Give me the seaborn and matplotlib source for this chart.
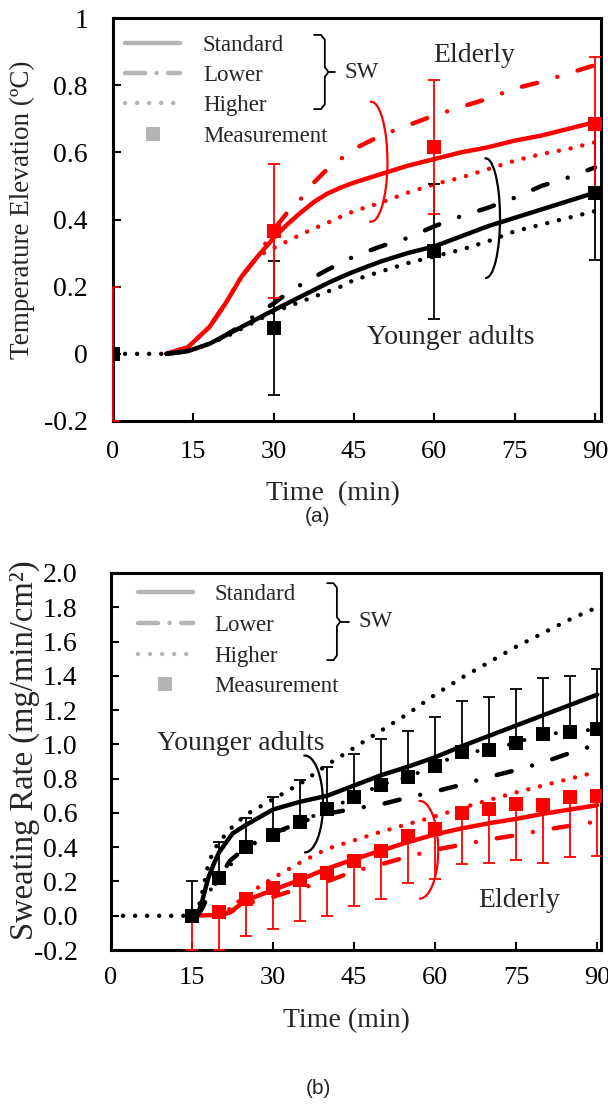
import numpy as np
import pandas as pd
import seaborn as sns
import matplotlib
matplotlib.use('Agg')
import matplotlib.pyplot as plt
from matplotlib.patches import Arc
from matplotlib.lines import Line2D

# ---------------- (a) temperature elevation ----------------
ta = [10, 14, 18, 21, 24, 27, 30, 32.5, 35, 37.5, 40, 42.5, 45, 50, 55, 60, 65, 70, 75, 80, 85, 90]
red_std_a = [0, 0.02, 0.08, 0.15, 0.23, 0.29, 0.345, 0.385, 0.42, 0.452, 0.477, 0.495, 0.51, 0.535, 0.56, 0.58, 0.60, 0.615, 0.635, 0.65, 0.67, 0.69]
red_low_a = [0, 0.02, 0.08, 0.15, 0.23, 0.29, 0.37, 0.42, 0.46, 0.51, 0.55, 0.58, 0.61, 0.65, 0.68, 0.71, 0.735, 0.76, 0.79, 0.81, 0.835, 0.86]
red_hi_a = [0, 0.02, 0.08, 0.15, 0.23, 0.29, 0.315, 0.335, 0.355, 0.373, 0.39, 0.408, 0.425, 0.45, 0.48, 0.505, 0.525, 0.55, 0.575, 0.595, 0.61, 0.63]
blk_std_a = [0, 0.008, 0.03, 0.055, 0.08, 0.105, 0.13, 0.15, 0.17, 0.19, 0.21, 0.228, 0.245, 0.275, 0.30, 0.32, 0.35, 0.38, 0.405, 0.43, 0.455, 0.48]
blk_low_a = [0, 0.008, 0.03, 0.055, 0.085, 0.12, 0.15, 0.18, 0.205, 0.228, 0.25, 0.27, 0.29, 0.32, 0.345, 0.38, 0.41, 0.435, 0.465, 0.50, 0.525, 0.555]
ta_hi = [0, 5] + ta
blk_hi_a = [0, 0, 0, 0.008, 0.03, 0.05, 0.075, 0.10, 0.125, 0.14, 0.155, 0.17, 0.185, 0.2, 0.22, 0.245, 0.27, 0.29, 0.31, 0.335, 0.365, 0.385, 0.405, 0.425]

tm_a = [0, 30, 60, 90]
red_meas_a = [0, 0.365, 0.615, 0.685]
red_err_a = [0.2, 0.2, 0.2, 0.2]
blk_meas_a = [0, 0.077, 0.305, 0.48]
blk_err_a = [0, 0.2, 0.2, 0.2]

# ---------------- (b) sweating rate ----------------
tb_red = [15, 20, 22, 25, 30, 35, 40, 45, 50, 55, 60, 65, 70, 75, 80, 85, 90]
red_std_b = [0, 0.005, 0.02, 0.09, 0.15, 0.21, 0.275, 0.33, 0.38, 0.43, 0.475, 0.51, 0.54, 0.565, 0.595, 0.62, 0.645]
tb_red2 = [20, 22, 25, 30, 35, 40, 45, 50, 55, 60, 65, 70, 75, 80, 85, 90]
red_hi_b = [0, 0.04, 0.12, 0.22, 0.31, 0.39, 0.44, 0.49, 0.535, 0.58, 0.63, 0.675, 0.72, 0.76, 0.80, 0.84]
red_low_b = [0, 0.02, 0.07, 0.11, 0.16, 0.20, 0.26, 0.30, 0.345, 0.385, 0.415, 0.445, 0.47, 0.50, 0.525, 0.55]

tb_std = [16, 17, 18, 19, 20, 22.5, 25, 30, 35, 40, 45, 50, 55, 60, 65, 70, 75, 80, 85, 90]
blk_std_b = [0, 0.1, 0.22, 0.3, 0.37, 0.48, 0.53, 0.62, 0.665, 0.70, 0.76, 0.82, 0.87, 0.925, 0.99, 1.05, 1.11, 1.17, 1.23, 1.29]
tb_hi = [0, 15, 16, 17, 18, 19, 20, 22.5, 25, 30, 35, 40, 45, 50, 55, 60, 65, 70, 75, 80, 85, 90]
blk_hi_b = [0, 0, 0.02, 0.15, 0.3, 0.38, 0.43, 0.52, 0.59, 0.68, 0.77, 0.88, 0.98, 1.08, 1.18, 1.29, 1.39, 1.48, 1.57, 1.65, 1.73, 1.80]
tb_low = [16, 17, 18, 20, 22, 25, 30, 35, 40, 45, 50, 55, 60, 65, 70, 75, 80, 85, 90]
blk_low_b = [0, 0.05, 0.12, 0.22, 0.32, 0.40, 0.48, 0.545, 0.595, 0.625, 0.65, 0.69, 0.725, 0.765, 0.81, 0.85, 0.895, 0.95, 1.0]

tm_b = [15, 20, 25, 30, 35, 40, 45, 50, 55, 60, 65, 70, 75, 80, 85, 90]
blk_meas_b = [0.0, 0.22, 0.40, 0.47, 0.545, 0.62, 0.69, 0.765, 0.81, 0.875, 0.955, 0.965, 1.01, 1.06, 1.07, 1.09]
blk_top_b = [0.2, 0.43, 0.57, 0.69, 0.79, 0.865, 0.945, 1.03, 1.08, 1.16, 1.255, 1.275, 1.325, 1.385, 1.40, 1.44]
red_meas_b = [0.0, 0.02, 0.10, 0.16, 0.21, 0.25, 0.32, 0.38, 0.465, 0.505, 0.60, 0.62, 0.65, 0.645, 0.69, 0.70]
red_bot_b = [-0.2, -0.2, -0.12, -0.077, -0.03, 0.0, 0.055, 0.10, 0.19, 0.215, 0.30, 0.305, 0.325, 0.31, 0.345, 0.347]

RED = '#ff0000'
BLK = '#000000'
GRAY = '#b4b4b4'
LW = 3.2
SOLID = '-'
DASHDOT = (0, (3.5, 4.75, 0.01, 4.75))
DOTTED = (0, (0.01, 2.7))

sns.set_theme(style='ticks')
plt.rcParams['font.family'] = ['Liberation Serif', 'DejaVu Serif']

fig = plt.figure(figsize=(6.08, 11.05), dpi=100)
ax1 = fig.add_axes([113 / 608, 1 - 421 / 1105, 488 / 608, 403 / 1105])
ax2 = fig.add_axes([111 / 608, 1 - 950 / 1105, 490 / 608, 377 / 1105])


def curve(ax, t, y, color, ls, lw=LW):
    sns.lineplot(x=t, y=y, ax=ax, color=color, linestyle=ls, linewidth=lw,
                 dash_capstyle='round', solid_capstyle='round',
                 sort=False, estimator=None, legend=False)


def squares(ax, t, y, color):
    sns.scatterplot(x=t, y=y, ax=ax, marker='s', s=100, color=color,
                    linewidth=0, legend=False, zorder=6)


def errbars(ax, t, y, yerr, color):
    eb = ax.errorbar(t, y, yerr=yerr, fmt='none', ecolor=color,
                     elinewidth=1.3, capsize=4.5, capthick=1.3, zorder=4)
    for col in eb[2]:
        col.set_clip_on(False)


def bracket(ax, x_arm, x_vert, x_tip, y_top, y_bot, text):
    ym = (y_top + y_bot) / 2
    r = 0.012
    rx = (x_vert - x_arm) * 0.35
    xs = [x_arm, x_vert - rx, x_vert, x_vert, x_vert + rx, x_vert, x_vert, x_vert - rx, x_arm]
    ys = [y_top, y_top, y_top - r, ym + r, ym, ym - r, y_bot + r, y_bot, y_bot]
    ax.plot(xs, ys, color='black', lw=1.3, transform=ax.transAxes, clip_on=False)
    ax.plot([x_vert + rx, x_tip], [ym, ym], color='black', lw=1.3,
            transform=ax.transAxes, clip_on=False)
    ax.text(x_tip + 0.02, ym, text, transform=ax.transAxes, ha='left',
            va='center', fontsize=16.5)


def legend(ax, anchor, textpad, spacing):
    handles = [Line2D([], [], color=GRAY, lw=LW, ls=SOLID),
               Line2D([], [], color=GRAY, lw=LW, ls=(0, (4.5, 2.6, 0.01, 2.6)),
                      dash_capstyle='round'),
               Line2D([], [], color=GRAY, lw=LW, ls=DOTTED, dash_capstyle='round'),
               Line2D([], [], color=GRAY, ls='none', marker='s', markersize=10,
                      markeredgewidth=0)]
    ax.legend(handles, ['Standard', 'Lower', 'Higher', 'Measurement'],
              loc='upper left', bbox_to_anchor=anchor, frameon=False,
              fontsize=16.5, handlelength=2.4, handletextpad=textpad,
              labelspacing=spacing, borderpad=0, borderaxespad=0)


def style_axes(ax, xpad, ypad):
    for s in ax.spines.values():
        s.set_linewidth(2.2)
        s.set_color('black')
    ax.tick_params(direction='in', length=6, width=1.5, colors='black')
    ax.tick_params(axis='x', labelsize=19, pad=xpad)
    ax.tick_params(axis='y', labelsize=20, pad=ypad)


# ----- panel (a) -----
errbars(ax1, tm_a, blk_meas_a, blk_err_a, BLK)
errbars(ax1, tm_a, red_meas_a, red_err_a, RED)
curve(ax1, ta, red_low_a, RED, DASHDOT)
curve(ax1, ta, red_hi_a, RED, DOTTED)
curve(ax1, ta, red_std_a, RED, SOLID)
curve(ax1, ta, blk_low_a, BLK, DASHDOT)
curve(ax1, ta_hi, blk_hi_a, BLK, DOTTED)
curve(ax1, ta, blk_std_a, BLK, SOLID)
squares(ax1, tm_a, red_meas_a, RED)
squares(ax1, tm_a, blk_meas_a, BLK)

ax1.add_patch(Arc((48.2, 0.572), 6.06, 0.357, theta1=-153, theta2=145,
                  color=RED, lw=1.6))
ax1.add_patch(Arc((69.6, 0.404), 5.3, 0.356, theta1=-124, theta2=144,
                  color=BLK, lw=1.6))
ax1.text(67.5, 0.889, 'Elderly', ha='center', va='center', fontsize=20)
ax1.text(63, 0.05, 'Younger adults', ha='center', va='center', fontsize=20)

ax1.set_xlim(0, 91.1)
ax1.set_ylim(-0.2, 1.0)
ax1.set_xticks([0, 15, 30, 45, 60, 75, 90])
ax1.set_yticks([-0.2, 0, 0.2, 0.4, 0.6, 0.8, 1.0])
ax1.set_yticklabels(['-0.2', '0', '0.2', '0.4', '0.6', '0.8', '1'])
style_axes(ax1, 14.5, 18)
ax1.set_xlabel('Time  (min)', fontsize=20)
ax1.set_ylabel('Temperature Elevation (ºC)', fontsize=19.5)
ax1.xaxis.set_label_coords(0.45, -0.15)
ax1.yaxis.set_label_coords(-0.16, 0.524)
legend(ax1, (0.0246, 0.958), 1.0, 0.40)
bracket(ax1, 0.412, 0.434, 0.455, 0.958, 0.774, 'SW')

# ----- panel (b) -----
blk_up = np.array(blk_top_b) - np.array(blk_meas_b)
red_dn = np.array(red_meas_b) - np.array(red_bot_b)
errbars(ax2, tm_b, blk_meas_b, [np.zeros(len(tm_b)), blk_up], BLK)
errbars(ax2, tm_b, red_meas_b, [red_dn, np.zeros(len(tm_b))], RED)
curve(ax2, tm_b, blk_meas_b, BLK, (0, (0.01, 4.0)), lw=2.9)
curve(ax2, tb_red2, red_low_b, RED, DASHDOT)
curve(ax2, tb_red2, red_hi_b, RED, DOTTED)
curve(ax2, tb_red, red_std_b, RED, SOLID)
curve(ax2, tb_low, blk_low_b, BLK, DASHDOT)
curve(ax2, tb_hi, blk_hi_b, BLK, DOTTED)
curve(ax2, tb_std, blk_std_b, BLK, SOLID)
squares(ax2, tm_b, red_meas_b, RED)
squares(ax2, tm_b, blk_meas_b, BLK)

ax2.add_patch(Arc((35.9, 0.652), 6.7, 0.565, theta1=-117, theta2=135,
                  color=BLK, lw=1.6))
ax2.add_patch(Arc((57.15, 0.385), 6.85, 0.57, theta1=-116, theta2=128,
                  color=RED, lw=1.6))
ax2.text(24.1, 1.005, 'Younger adults', ha='center', va='center', fontsize=20)
ax2.text(75.5, 0.088, 'Elderly', ha='center', va='center', fontsize=20)

ax2.set_xlim(0, 90.7)
ax2.set_ylim(-0.2, 2.0)
ax2.set_xticks([0, 15, 30, 45, 60, 75, 90])
yt = np.arange(-0.2, 2.01, 0.2)
ax2.set_yticks(yt)
ax2.set_yticklabels(['%.1f' % v for v in yt])
style_axes(ax2, 12.5, 24)
ax2.set_xlabel('Time (min)', fontsize=20)
ax2.set_ylabel('Sweating Rate (mg/min/cm²)', fontsize=23.5)
ax2.xaxis.set_label_coords(0.48, -0.154)
ax2.yaxis.set_label_coords(-0.145, 0.53)
legend(ax2, (0.055, 0.970), 0.93, 0.42)
bracket(ax2, 0.441, 0.461, 0.486, 0.973, 0.769, 'SW')

fig.text(318 / 608, 1 - 517 / 1105, '(a)', ha='center', va='center',
         fontsize=15, family='Liberation Sans')
fig.text(318 / 608, 1 - 1088 / 1105, '(b)', ha='center', va='center',
         fontsize=15, family='Liberation Sans')

fig.savefig('out.png', dpi=100)
